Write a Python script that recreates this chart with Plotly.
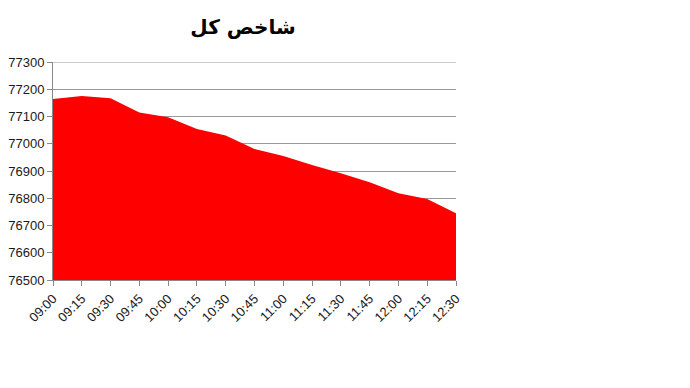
import plotly.graph_objects as go

times = ["09:00", "09:15", "09:30", "09:45", "10:00", "10:15", "10:30", "10:45",
         "11:00", "11:15", "11:30", "11:45", "12:00", "12:15", "12:30"]
index_values = [77164, 77175, 77167, 77115, 77097, 77054, 77030, 76981,
                76955, 76922, 76892, 76859, 76818, 76797, 76745]
y_ticks = [76500, 76600, 76700, 76800, 76900, 77000, 77100, 77200, 77300]
title_text = "شاخص کل"

fig = go.Figure()
fig.add_trace(go.Scatter(
    x=times, y=index_values, mode="lines", fill="tozeroy",
    fillcolor="#FF0000", line=dict(color="#FF0000", width=0),
    hoverinfo="x+y", showlegend=False,
))

# top gridline at the upper range end (plotly omits gridlines on the frame edge)
fig.add_shape(type="line", xref="paper", yref="y", x0=0, x1=1,
              y0=y_ticks[-1], y1=y_ticks[-1],
              line=dict(color="#999999", width=1), layer="below")

fig.update_layout(
    width=690, height=388,
    margin=dict(l=53, r=234, t=62, b=108),
    paper_bgcolor="white", plot_bgcolor="white",
    title=dict(text="<b>" + title_text + "</b>", x=243 / 690, xanchor="center",
               y=1 - 27 / 388, yanchor="middle",
               font=dict(family="DejaVu Sans", size=20, color="black")),
    font=dict(family="Liberation Sans", size=13, color="#1a1a1a"),
)
fig.update_xaxes(
    type="category", range=[0, 14], tickangle=-45, automargin=False,
    showline=True, linecolor="#888888", linewidth=1,
    ticks="outside", ticklen=5, tickcolor="#888888",
    showgrid=False, tickfont=dict(size=13, color="#1a1a1a"),
)
fig.update_yaxes(
    range=[y_ticks[0], y_ticks[-1]], tickvals=y_ticks, automargin=False,
    ticktext=[str(v) for v in y_ticks],
    showline=True, linecolor="#888888", linewidth=1,
    ticks="outside", ticklen=5, tickcolor="#888888",
    showgrid=True, gridcolor="#999999", gridwidth=1,
    zeroline=False, tickfont=dict(size=13, color="#1a1a1a"),
)

fig.write_html("out.html")
